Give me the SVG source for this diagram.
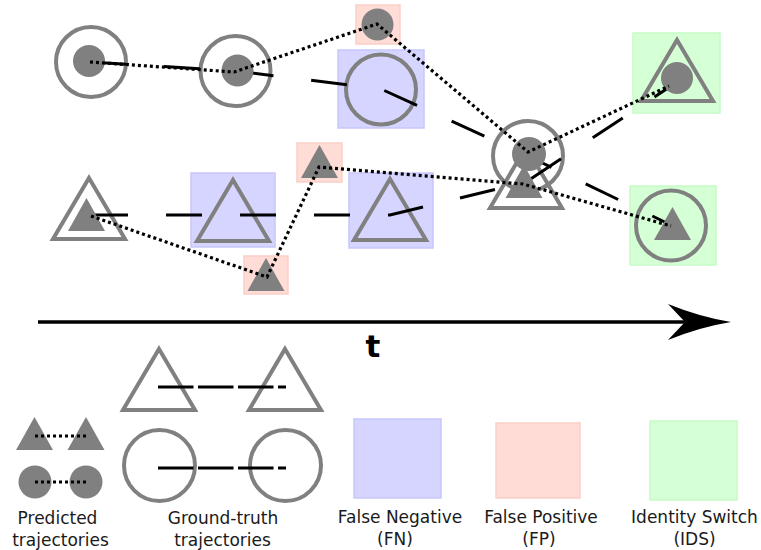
<svg xmlns="http://www.w3.org/2000/svg" xmlns:xlink="http://www.w3.org/1999/xlink" width="761" height="550" viewBox="0 0 761 550">
  <style>
    .gt { fill: none; stroke: #808080; stroke-width: 4; }
    .pd { fill: #808080; }
    .fn { fill: #d5d5ff; stroke: #c6c6fb; stroke-width: 1.5; }
    .fp { fill: #ffdcd5; stroke: #fbd0c6; stroke-width: 1.5; }
    .ids { fill: #d5ffd5; stroke: #c6fbc6; stroke-width: 1.5; }
    .track { fill: none; stroke: #000; stroke-width: 3; stroke-dasharray: 36 38; }
    .pred { fill: none; stroke: #000; stroke-width: 3.2; stroke-dasharray: 3 3; }
    .key-track { fill: none; stroke: #000; stroke-width: 3; stroke-dasharray: 35.5 4.5; }
    .lbl { font-family: "DejaVu Sans", "Liberation Sans", sans-serif; font-size: 17px; text-anchor: middle; fill: #1a1a1a; }
    .axis-lbl { font-family: "DejaVu Sans", "Liberation Sans", sans-serif; font-size: 31px; font-weight: bold; text-anchor: middle; fill: #000; }
  </style>
  <defs>
    <!-- outlined ground-truth triangle, origin at base centre -->
    <path id="gt-tri" class="gt" d="M0,-61 L36,0 L-36,0 Z"/>
    <!-- filled predicted triangle, origin at base centre -->
    <path id="pd-tri" class="pd" d="M0,-33 L18.5,0 L-18.5,0 Z"/>
  </defs>

  <!-- error markers behind the detections -->
  <g id="errors">
    <rect id="fp-1" class="fp" x="356" y="5" width="44" height="39"/>
    <rect id="fn-1" class="fn" x="338" y="50" width="86" height="78"/>
    <rect id="fp-2" class="fp" x="297" y="143" width="45" height="39"/>
    <rect id="fn-2" class="fn" x="191" y="173" width="84" height="74"/>
    <rect id="fn-3" class="fn" x="349" y="173" width="84" height="75"/>
    <rect id="fp-3" class="fp" x="244" y="256" width="44" height="38"/>
    <rect id="ids-1" class="ids" x="633" y="33" width="87" height="80"/>
    <rect id="ids-2" class="ids" x="630" y="186" width="86" height="79"/>
  </g>

  <!-- ground-truth objects -->
  <g id="gt-circle-1"><circle class="gt" cx="91" cy="62" r="35"/></g>
  <g id="gt-circle-2"><circle class="gt" cx="235.5" cy="71" r="35"/></g>
  <g id="gt-circle-3"><circle class="gt" cx="381" cy="89.5" r="35"/></g>
  <g id="gt-circle-4"><circle class="gt" cx="528" cy="156" r="35"/></g>
  <g id="gt-circle-5"><circle class="gt" cx="671" cy="225.5" r="35"/></g>
  <g id="gt-tri-1"><use xlink:href="#gt-tri" x="89" y="239"/></g>
  <g id="gt-tri-2"><use xlink:href="#gt-tri" x="233" y="241"/></g>
  <g id="gt-tri-3"><use xlink:href="#gt-tri" x="390" y="240"/></g>
  <g id="gt-tri-4"><use xlink:href="#gt-tri" x="526" y="208"/></g>
  <g id="gt-tri-5"><use xlink:href="#gt-tri" x="677" y="101"/></g>

  <!-- ground-truth tracks -->
  <g id="gt-tracks">
    <polyline class="track" points="90,62 236,71 381,89 528,156 671,225"/>
    <polyline class="track" points="92,215 390,215 526,182 668,88"/>
  </g>

  <!-- predicted detections -->
  <g id="pd-circle-1"><circle class="pd" cx="89" cy="61" r="16"/></g>
  <g id="pd-circle-2"><circle class="pd" cx="237.5" cy="70.5" r="16"/></g>
  <g id="pd-circle-3"><circle class="pd" cx="377.5" cy="24.5" r="16"/></g>
  <g id="pd-circle-4"><circle class="pd" cx="529" cy="154" r="17"/></g>
  <g id="pd-circle-5"><circle class="pd" cx="677" cy="78" r="16"/></g>
  <g id="pd-tri-1"><use xlink:href="#pd-tri" x="86.5" y="231"/></g>
  <g id="pd-tri-2"><use xlink:href="#pd-tri" x="266" y="291"/></g>
  <g id="pd-tri-3"><use xlink:href="#pd-tri" x="319.5" y="178"/></g>
  <g id="pd-tri-4"><use xlink:href="#pd-tri" x="524" y="198"/></g>
  <g id="pd-tri-5"><use xlink:href="#pd-tri" x="672.5" y="240"/></g>

  <!-- predicted tracks -->
  <g id="pred-tracks">
    <polyline class="pred" points="90,62 234,72 377,24 528,152 669,86"/>
    <polyline class="pred" points="91,216 267,277 319,167 523,184 671,226"/>
  </g>

  <!-- time axis -->
  <g id="time-axis">
    <line x1="38" y1="322" x2="688" y2="322" stroke="#000" stroke-width="3.5"/>
    <path d="M668,304 Q700,317 731,322 Q700,327 668,340 L685,322 Z" fill="#000"/>
    <text class="axis-lbl" x="373" y="357">t</text>
  </g>

  <!-- key -->
  <g id="key-predicted">
    <use xlink:href="#pd-tri" x="34.5" y="450"/>
    <use xlink:href="#pd-tri" x="86" y="450"/>
    <circle class="pd" cx="35" cy="482" r="16.5"/>
    <circle class="pd" cx="86" cy="482" r="16.5"/>
    <line class="pred" x1="35" y1="436" x2="86" y2="436"/>
    <line class="pred" x1="35" y1="482" x2="86" y2="482"/>
    <text class="lbl" x="57.5" y="524">Predicted</text>
    <text class="lbl" x="60.5" y="546">trajectories</text>
  </g>
  <g id="key-ground-truth">
    <use xlink:href="#gt-tri" x="159" y="410"/>
    <use xlink:href="#gt-tri" x="285" y="410"/>
    <circle class="gt" cx="159.5" cy="465.5" r="35.5"/>
    <circle class="gt" cx="285.5" cy="465.5" r="35.5"/>
    <line class="key-track" x1="158" y1="387" x2="286" y2="387"/>
    <line class="key-track" x1="158" y1="468" x2="286" y2="468"/>
    <text class="lbl" x="223" y="524">Ground-truth</text>
    <text class="lbl" x="222.5" y="546">trajectories</text>
  </g>
  <g id="key-fn">
    <rect class="fn" x="354" y="419" width="87" height="79"/>
    <text class="lbl" x="400" y="523">False Negative</text>
    <text class="lbl" x="395" y="545">(FN)</text>
  </g>
  <g id="key-fp">
    <rect class="fp" x="496" y="423" width="84" height="75"/>
    <text class="lbl" x="541" y="523">False Positive</text>
    <text class="lbl" x="539" y="545">(FP)</text>
  </g>
  <g id="key-ids">
    <rect class="ids" x="650" y="421" width="87" height="79"/>
    <text class="lbl" x="694.5" y="523">Identity Switch</text>
    <text class="lbl" x="694.5" y="545">(IDS)</text>
  </g>
</svg>
